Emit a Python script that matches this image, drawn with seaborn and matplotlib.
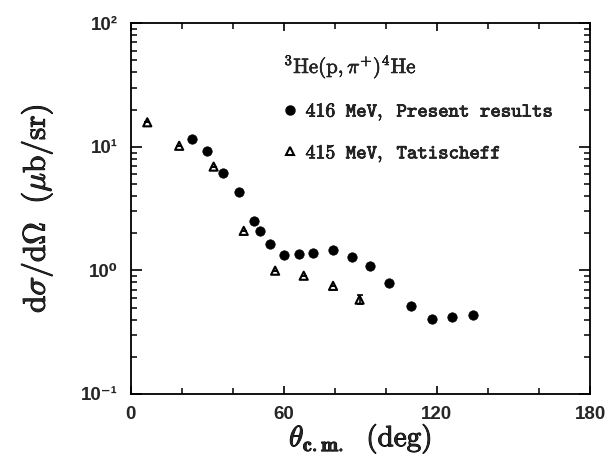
import numpy as np
import pandas as pd
import matplotlib
matplotlib.use("Agg")
import matplotlib.pyplot as plt
import matplotlib.patheffects as pe
import seaborn as sns
from matplotlib.ticker import FixedLocator, LogLocator, NullFormatter
from matplotlib.lines import Line2D

# ---- data ----
present_theta = [24.1, 30.0, 36.2, 42.4, 48.4, 50.7, 54.5, 60.1, 66.0, 71.5,
                 79.3, 86.9, 93.7, 101.1, 109.8, 118.0, 126.1, 134.0]
present_xs = [11.6, 9.3, 6.11, 4.32, 2.53, 2.09, 1.65, 1.33, 1.37, 1.38,
              1.47, 1.29, 1.08, 0.79, 0.513, 0.403, 0.42, 0.434]
present_err = [0, 0, 0, 0, 0, 0, 0, 0, 0, 0, 0, 0, 0, 0, 0, 0.035, 0, 0]

tat_theta = [6.5, 19.0, 32.5, 44.3, 56.6, 67.8, 79.3, 89.7]
tat_xs = [15.8, 10.2, 6.92, 2.09, 0.995, 0.906, 0.75, 0.58]
tat_err = [0, 0, 0, 0, 0, 0, 0, 0.05]

x_ticks = [0, 60, 120, 180]
y_ticks = [0.1, 1, 10, 100]
y_ticklabels = ["10\u207b\u00b9", "10\u2070", "10\u00b9", "10\u00b2"]

SP = r"\hspace{0.6}"
label_present = r"$\mathtt{416" + SP + r"MeV," + SP + r"Present" + SP + r"results}$"
label_tat = r"$\mathtt{415" + SP + r"MeV," + SP + r"Tatischeff}$"
legend_title = r"$^{3}\mathrm{He}(\mathrm{p},\pi^{+})^{4}\mathrm{He}$"

df_p = pd.DataFrame({"theta": present_theta, "xs": present_xs})
df_t = pd.DataFrame({"theta": tat_theta, "xs": tat_xs})

sns.set_style("ticks")
plt.rcParams["mathtext.fontset"] = "cm"
plt.rcParams["font.family"] = ["Liberation Sans", "DejaVu Sans"]

fig = plt.figure(figsize=(6.13, 4.62), dpi=100)
ax = fig.add_axes([0.2132, 0.1472, 0.7493, 0.8024])

ax.errorbar(present_theta, present_xs, yerr=present_err, fmt="none",
            ecolor="black", elinewidth=1.2, capsize=0)
ax.errorbar(tat_theta, tat_xs, yerr=tat_err, fmt="none",
            ecolor="black", elinewidth=1.2, capsize=2.5, capthick=1.2)

sns.scatterplot(data=df_p, x="theta", y="xs", ax=ax, marker="o", s=46,
                color="black", edgecolor="black", linewidth=0.5, zorder=3)
sns.scatterplot(data=df_t, x="theta", y="xs", ax=ax, marker="^", s=34,
                facecolors="none", edgecolor="black", linewidth=1.5, zorder=3)

ax.set_yscale("log")
ax.set_xlim(0, 180)
ax.set_ylim(0.1, 100)

ax.xaxis.set_major_locator(FixedLocator(x_ticks))
ax.xaxis.set_minor_locator(FixedLocator([20, 40, 80, 100, 140, 160]))
ax.set_xticklabels([str(t) for t in x_ticks])
ax.yaxis.set_major_locator(FixedLocator(y_ticks))
ax.set_yticklabels(y_ticklabels)
ax.yaxis.set_minor_locator(LogLocator(base=10, subs=np.arange(2, 10)))
ax.yaxis.set_minor_formatter(NullFormatter())

for sp in ax.spines.values():
    sp.set_visible(True)
    sp.set_linewidth(1.3)
    sp.set_color("black")

ax.tick_params(which="both", direction="in", top=True, right=True, color="black")
ax.tick_params(axis="y", which="major", length=8, width=1.2, pad=9)
ax.tick_params(axis="y", which="minor", length=4, width=1.1)
ax.tick_params(axis="x", which="major", length=6, width=1.2, pad=9)
ax.tick_params(axis="x", which="minor", length=4, width=1.1)
for lab in ax.get_xticklabels() + ax.get_yticklabels():
    lab.set_fontweight("bold")
    lab.set_fontsize(13.5)

stroke = [pe.withStroke(linewidth=0.7, foreground="black")]
xl = ax.set_xlabel(r"$\theta_{\mathbf{c.m.}}\ \ (\mathrm{deg})$", fontsize=21, labelpad=-1)
yl = ax.set_ylabel(r"$\mathrm{d}\sigma/\mathrm{d}\Omega\ \ (\mu\mathrm{b/sr})$", fontsize=22.5, labelpad=19)
xl.set_path_effects(stroke)
yl.set_path_effects(stroke)

handles = [
    Line2D([], [], marker="o", ls="", color="black", markersize=6.5),
    Line2D([], [], marker="^", ls="", markerfacecolor="none",
           markeredgecolor="black", markeredgewidth=1.5, markersize=6),
]
leg = ax.legend(handles, [label_present, label_tat], title=legend_title,
                loc="upper left", bbox_to_anchor=(0.333, 0.92), frameon=False,
                fontsize=14.3, title_fontsize=15, handlelength=0.6,
                handletextpad=0.5, labelspacing=1.0, alignment="left",
                borderpad=0, borderaxespad=0)
leg._legend_box.sep = 14
for t in leg.get_texts():
    t.set_path_effects([pe.withStroke(linewidth=0.5, foreground="black")])
leg.get_title().set_path_effects([pe.withStroke(linewidth=0.4, foreground="black")])

fig.savefig("out.png", dpi=100)
